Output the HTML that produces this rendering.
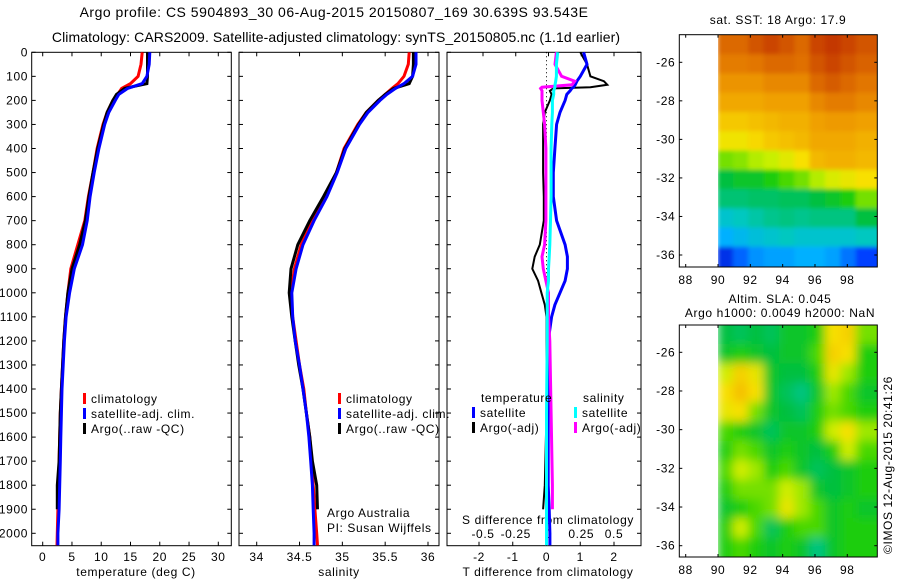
<!DOCTYPE html>
<html><head><meta charset="utf-8">
<style>
html,body{margin:0;padding:0;background:#fff;}
svg{display:block;font-family:"Liberation Sans",sans-serif;}
text{font-size:12px;letter-spacing:0.6px;fill:#000;}
</style></head>
<body>
<svg id="fig" width="900" height="580" viewBox="0 0 900 580" xmlns="http://www.w3.org/2000/svg">
<text x="334" y="17" text-anchor="middle" style="font-size:14px;letter-spacing:0.5px">Argo profile: CS 5904893_30 06-Aug-2015 20150807_169 30.639S 93.543E</text>
<text x="336" y="42" text-anchor="middle" style="font-size:14px;letter-spacing:0.1px">Climatology: CARS2009. Satellite-adjusted climatology: synTS_20150805.nc (1.1d earlier)</text>
<g id="g"></g>
</svg>
<script>
// ---------- data ----------
const depths = [0,50,100,130,150,175,200,250,300,400,500,600,700,800,900,1000,1100,1200,1300,1400,1500,1600,1700,1800,1900,2000,2050];
const tempClim = [17.0,16.8,16.3,15.0,13.5,12.8,12.0,11.0,10.3,9.3,8.6,7.8,7.2,6.0,4.8,4.3,3.9,3.6,3.4,3.2,3.0,2.9,2.8,2.7,2.6,2.5,2.45];
const tempSat = [18.3,18.2,17.8,17.0,14.5,13.0,12.4,11.3,10.6,9.6,8.8,8.1,7.6,6.8,5.4,4.6,4.0,3.7,3.5,3.3,3.2,3.1,3.0,2.9,2.8,2.6,2.6];
const tempArgo = [17.9,17.9,17.9,17.8,14.0,12.6,12.0,11.0,10.4,9.4,8.6,7.9,7.3,6.3,5.0,4.3,3.9,3.6,3.4,3.2,3.0,2.9,2.8,2.5,2.5];
const salClim = [35.78,35.77,35.72,35.65,35.58,35.50,35.42,35.28,35.18,35.02,34.93,34.80,34.65,34.52,34.44,34.40,34.42,34.46,34.50,34.55,34.58,34.62,34.64,34.66,34.68,34.70,34.71];
const salSat = [35.86,35.86,35.82,35.72,35.62,35.52,35.44,35.30,35.20,35.04,34.94,34.82,34.67,34.54,34.46,34.41,34.42,34.45,34.50,34.54,34.58,34.61,34.63,34.65,34.66,34.67,34.67];
const salArgo = [35.83,35.83,35.82,35.78,35.60,35.50,35.42,35.28,35.19,35.03,34.93,34.78,34.62,34.48,34.40,34.38,34.41,34.45,34.49,34.54,34.58,34.62,34.65,34.70,34.71];
const diffDepths = [0,50,100,120,135,145,150,160,175,200,250,300,400,500,600,700,800,850,900,950,1000,1050,1100,1200,1500,1800,1900,2000,2050];
const dTSat = [1.1,1.2,1.0,0.9,0.85,0.8,0.75,0.7,0.6,0.55,0.4,0.3,0.25,0.2,0.2,0.3,0.55,0.62,0.62,0.55,0.4,0.25,0.15,0.05,0.05,0.05,0.08,0.1,0.1];
const dTArgo = [1.0,1.2,1.3,1.7,1.8,1.3,0.2,0.1,0.15,0.1,-0.05,-0.1,-0.1,-0.1,-0.08,-0.08,-0.2,-0.35,-0.42,-0.25,-0.15,-0.05,0.0,0.0,0.0,-0.05,-0.1];
const dSSat = [0.07,0.06,0.06,0.055,0.05,0.05,0.045,0.04,0.04,0.03,0.03,0.025,0.02,0.02,0.02,0.015,0.01,0.005,0.0,0.0,-0.01,-0.01,-0.01,-0.01,-0.015,-0.015,-0.015,-0.015,-0.015];
const dSArgo = [0.06,0.05,0.1,0.2,0.18,-0.05,-0.06,-0.05,-0.05,-0.05,-0.04,-0.03,-0.02,-0.02,-0.02,-0.02,-0.03,-0.05,-0.04,-0.02,0.0,0.0,0.0,0.01,0.02,0.03,0.03];
const depthTicks = [0,100,200,300,400,500,600,700,800,900,1000,1100,1200,1300,1400,1500,1600,1700,1800,1900,2000];
const tempTicks = [0,5,10,15,20,25,30];
const salTicks = [34,34.5,35,35.5,36];
const salTickLabels = ["34","34.5","35","35.5","36"];
const dTTicks = [-2,-1,0,1,2];
const dSTicks = [-0.5,-0.25,0,0.25,0.5];
const dSTickLabels = ["-0.5","-0.25","0","0.25","0.5"];
const lonTicks = [88,90,92,94,96,98];
const latTicks = [-26,-28,-30,-32,-34,-36];
const sstGrid = [
[0.87,0.87,0.9,0.92,0.9,0.87,0.92,0.94,0.92,0.9],
[0.84,0.84,0.85,0.87,0.87,0.86,0.9,0.92,0.9,0.88],
[0.8,0.8,0.8,0.82,0.82,0.82,0.87,0.89,0.87,0.85],
[0.77,0.77,0.77,0.78,0.78,0.78,0.82,0.84,0.84,0.82],
[0.73,0.73,0.74,0.75,0.76,0.76,0.78,0.79,0.79,0.78],
[0.69,0.69,0.71,0.73,0.74,0.75,0.77,0.77,0.77,0.76],
[0.6,0.61,0.63,0.64,0.67,0.7,0.75,0.76,0.76,0.75],
[0.5,0.52,0.52,0.55,0.58,0.6,0.63,0.66,0.68,0.7],
[0.46,0.46,0.47,0.47,0.48,0.48,0.5,0.52,0.55,0.6],
[0.38,0.4,0.42,0.44,0.45,0.44,0.45,0.45,0.45,0.5],
[0.3,0.33,0.36,0.38,0.4,0.38,0.38,0.38,0.38,0.4],
[0.12,0.2,0.26,0.28,0.28,0.3,0.3,0.28,0.22,0.15]];
const slaGrid = [
[0.5,0.48,0.5,0.48,0.52,0.52,0.55,0.7,0.72,0.6],
[0.52,0.55,0.52,0.5,0.52,0.52,0.58,0.72,0.7,0.55],
[0.65,0.72,0.68,0.52,0.5,0.5,0.55,0.68,0.62,0.55],
[0.7,0.74,0.7,0.52,0.48,0.45,0.52,0.62,0.58,0.52],
[0.68,0.7,0.6,0.52,0.5,0.48,0.55,0.6,0.58,0.55],
[0.58,0.55,0.52,0.48,0.52,0.52,0.55,0.65,0.7,0.62],
[0.55,0.6,0.58,0.52,0.55,0.52,0.5,0.55,0.65,0.58],
[0.58,0.65,0.62,0.55,0.58,0.52,0.48,0.5,0.52,0.55],
[0.55,0.6,0.6,0.6,0.65,0.62,0.52,0.5,0.52,0.55],
[0.52,0.55,0.58,0.6,0.68,0.62,0.58,0.52,0.55,0.52],
[0.55,0.65,0.58,0.48,0.55,0.58,0.58,0.52,0.55,0.55],
[0.55,0.58,0.55,0.52,0.55,0.52,0.45,0.52,0.55,0.55]];

// ---------- helpers ----------
const NS="http://www.w3.org/2000/svg";
const G=document.getElementById('g');
function mk(tag,attrs,parent){const e=document.createElementNS(NS,tag);for(const k in attrs)e.setAttribute(k,attrs[k]);(parent||G).appendChild(e);return e;}
const PT=52.3, PB=545.7;
const yD=d=>PT+d*0.2405;
function lin(d0,d1,r0,r1){return v=>r0+(v-d0)*(r1-r0)/(d1-d0);}
const xT=lin(0,30,42.7,218.3);
const xS=lin(34,36,256.7,428);
const xDT=lin(-2,2,479,614);
const xDS=lin(-0.5,0.5,483,614);
const xLon=lin(88,98,685.7,847.3);
const yLat1=lin(-26,-36,62.3,255);
const yLat2=lin(-26,-36,352.3,545.7);

function frame(x0,x1,name){
  const r=mk('rect',{x:x0,y:PT,width:x1-x0,height:PB-PT,fill:'none',stroke:'#000','stroke-width':1});
  
  
  depthTicks.forEach(d=>{
    mk('line',{x1:x0,x2:x0+4,y1:yD(d),y2:yD(d),stroke:'#000'});
    mk('line',{x1:x1-4,x2:x1,y1:yD(d),y2:yD(d),stroke:'#000'});
  });
}
function xticks(ticks,labels,f,y,name,top){
  ticks.forEach((t,i)=>{
    mk('line',{x1:f(t),x2:f(t),y1:PB,y2:PB-4,stroke:'#000'});
    if(top) mk('line',{x1:f(t),x2:f(t),y1:PT,y2:PT+4,stroke:'#000'});
    const tx=mk('text',{x:f(t),y:y,'text-anchor':'middle'});tx.textContent=labels[i];
    
    
  });
}
function line(xs,ds,f,color,name,w){
  const pts=xs.map((v,i)=>f(v).toFixed(1)+','+yD(ds[i]).toFixed(1)).join(' ');
  const p=mk('polyline',{points:pts,fill:'none',stroke:color,'stroke-width':w||3,'stroke-linejoin':'miter'});
  
  
}
function txt(x,y,s,name,anchor){const t=mk('text',{x:x,y:y,'text-anchor':anchor||'start'});t.textContent=s;
  
  return t;}
function legendEntry(x,y,color,label,name){
  mk('rect',{x:x,y:y-10,width:3,height:11,fill:color});
  txt(x+8,y,label,name);
}

depthTicks.forEach(d=>{txt(28,yD(d)+4,String(d),'depth-tick-label','end');});

frame(31.7,231.3,'temperature-panel');
xticks(tempTicks,tempTicks.map(String),xT,561,'temperature-tick-label',true);
txt(136,576,'temperature (deg C)','temperature-axis-title','middle');
line(tempClim,depths,xT,'#ff0000','temperature-climatology-line');
line(tempArgo,depths.slice(0,tempArgo.length),xT,'#000000','temperature-argo-line');
line(tempSat,depths,xT,'#0000ff','temperature-satellite-line');
legendEntry(83,403,'#ff0000','climatology','legend-climatology');
legendEntry(83,418,'#0000ff','satellite-adj. clim.','legend-satellite-adj');
legendEntry(83,433,'#000000','Argo(..raw -QC)','legend-argo');

frame(239,439,'salinity-panel');
xticks(salTicks,salTickLabels,xS,561,'salinity-tick-label',true);
txt(339,576,'salinity','salinity-axis-title','middle');
line(salClim,depths,xS,'#ff0000','salinity-climatology-line');
line(salArgo,depths.slice(0,salArgo.length),xS,'#000000','salinity-argo-line');
line(salSat,depths,xS,'#0000ff','salinity-satellite-line');
legendEntry(338,403,'#ff0000','climatology','legend-climatology-2');
legendEntry(338,418,'#0000ff','satellite-adj. clim.','legend-satellite-adj-2');
legendEntry(338,433,'#000000','Argo(..raw -QC)','legend-argo-2');
txt(327,517,'Argo Australia','credit-argo-australia');
txt(327,532,'PI: Susan Wijffels','credit-pi');

frame(447,641,'difference-panel');
mk('line',{x1:xDT(0),x2:xDT(0),y1:PT,y2:PB,stroke:'#000','stroke-dasharray':'1,3'});
dTTicks.forEach(t=>{mk('line',{x1:xDT(t),x2:xDT(t),y1:PB,y2:PB-4,stroke:'#000'});txt(xDT(t),561,String(t),'t-diff-tick-label','middle');});
dSTicks.forEach((t,i)=>{mk('line',{x1:xDS(t),x2:xDS(t),y1:PT,y2:PT+4,stroke:'#000'});txt(xDS(t),538,dSTickLabels[i],'s-diff-tick-label','middle');});
txt(548,524,'S difference from climatology','s-diff-axis-title','middle');
txt(548,576,'T difference from climatology','t-diff-axis-title','middle');
line(dTArgo,diffDepths.slice(0,dTArgo.length),xDT,'#000000','t-diff-argo-line',2);
line(dTSat,diffDepths,xDT,'#0000ff','t-diff-satellite-line');
line(dSArgo,diffDepths.slice(0,dSArgo.length),xDS,'#ff00ff','s-diff-argo-line');
line(dSSat,diffDepths,xDS,'#00ffff','s-diff-satellite-line');
txt(481,402,'temperature','legend-temperature-header');
txt(583,402,'salinity','legend-salinity-header');
legendEntry(472,417,'#0000ff','satellite','legend-t-satellite');
legendEntry(472,432,'#000000','Argo(-adj)','legend-t-argo');
legendEntry(574,417,'#00ffff','satellite','legend-s-satellite');
legendEntry(574,432,'#ff00ff','Argo(-adj)','legend-s-argo');

const stops=[[0,[0,0,139]],[0.15,[0,64,255]],[0.3,[0,176,255]],[0.4,[0,200,192]],[0.5,[0,192,64]],[0.56,[32,208,0]],[0.64,[200,240,0]],[0.7,[248,224,0]],[0.78,[240,160,0]],[0.86,[224,112,0]],[0.95,[192,48,0]],[1,[160,0,0]]];
function cmap(v){for(let i=1;i<stops.length;i++){if(v<=stops[i][0]){const a=stops[i-1],b=stops[i],f=(v-a[0])/(b[0]-a[0]);return 'rgb('+a[1].map((c,k)=>Math.round(c+(b[1][k]-c)*f)).join(',')+')';}}return 'rgb(160,0,0)';}

const defs=mk('defs',{});
const flt=mk('filter',{id:'blur',x:'-10%',y:'-10%',width:'120%',height:'120%'},defs);
mk('feGaussianBlur',{stdDeviation:'5'},flt);
const flt2=mk('filter',{id:'blur2',x:'-10%',y:'-10%',width:'120%',height:'120%'},defs);
mk('feGaussianBlur',{stdDeviation:'2'},flt2);

function map(grid,yLat,name,top,bottom,blur){
  const L=679.3,R=877.3;
  const cp=mk('clipPath',{id:'clip-'+name},defs);mk('rect',{x:xLon(90),y:top,width:R-xLon(90),height:bottom-top},cp);
  const grp=mk('g',{'clip-path':'url(#clip-'+name+')'});
  
  
  const inner=mk('g',{filter:blur},grp);
  const nc=grid[0].length, dlon=9.5/nc;
  grid.forEach((row,r)=>row.forEach((v,c)=>{
    const lat=-24.6-r; const x0=xLon(90+c*dlon), x1=xLon(90+(c+1)*dlon);
    const y0=yLat(lat), y1=yLat(lat-1);
    const ex = c===nc-1?20:0, ey=r===grid.length-1?20:0, sy=r===0?20:0;
    const cell=mk('rect',{x:x0-0.5,y:y0-0.5-sy,width:x1-x0+1+ex,height:y1-y0+1+ey+sy,fill:cmap(v)},inner);
    
    
  }));
  const fr=mk('rect',{x:L,y:top,width:R-L,height:bottom-top,fill:'none',stroke:'#000'});
  
  
  lonTicks.forEach(t=>{mk('line',{x1:xLon(t),x2:xLon(t),y1:bottom,y2:bottom-3,stroke:'#000'});mk('line',{x1:xLon(t),x2:xLon(t),y1:top,y2:top+3,stroke:'#000'});txt(xLon(t),bottom+17,String(t),'lon-tick-label','middle');});
  latTicks.forEach(t=>{mk('line',{x1:L,x2:L+3,y1:yLat(t),y2:yLat(t),stroke:'#000'});mk('line',{x1:R-3,x2:R,y1:yLat(t),y2:yLat(t),stroke:'#000'});txt(L-4,yLat(t)+4,String(t),'lat-tick-label','end');});
}

txt(778,24,'sat. SST: 18 Argo: 17.9','sst-map-title','middle');
map(sstGrid,yLat1,'sst-map',34.7,267,'url(#blur2)');
txt(780,303,'Altim. SLA: 0.045','sla-map-title','middle');
txt(780,317,'Argo h1000: 0.0049 h2000: NaN','sla-map-subtitle','middle');
map(slaGrid,yLat2,'sla-map',325,557,'url(#blur)');
const cr=txt(0,0,'©IMOS 12-Aug-2015 20:41:26','imos-credit','middle');
cr.setAttribute('transform','translate(892,465) rotate(-90)');
</script>
</body></html>
